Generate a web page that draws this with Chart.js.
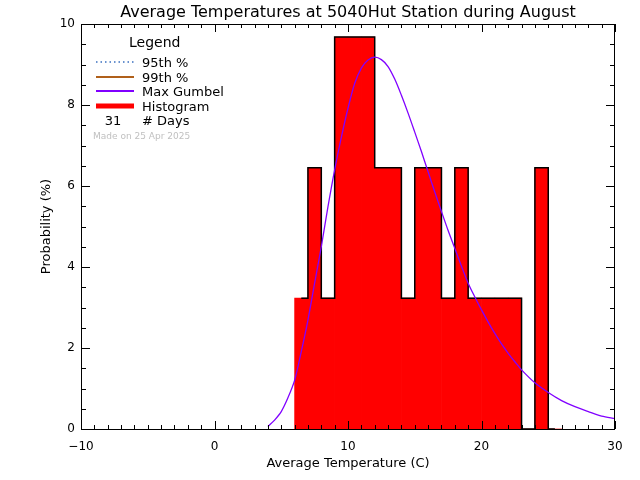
<!DOCTYPE html>
<html>
<head>
<meta charset="utf-8">
<script src="https://cdn.jsdelivr.net/npm/chart.js@4.4.1/dist/chart.umd.min.js"></script>
<style>
  html, body { margin: 0; padding: 0; background: #fff; }
</style>
</head>
<body>
<canvas id="tempChart" width="640" height="480"></canvas>
<script>
// histogram bins (1 degree wide, value at bin centre), probability in %
const binCenters = [6.5, 7.5, 8.5, 9.5, 10.5, 11.5, 12.5, 13.5, 14.5, 15.5,
                    16.5, 17.5, 18.5, 19.5, 20.5, 21.5, 22.5, 23.5, 24.5, 25.5];
const binProb = [3.23, 6.45, 3.23, 9.68, 9.68, 9.68, 6.45, 6.45, 3.23, 6.45,
                 6.45, 3.23, 6.45, 3.23, 3.23, 3.23, 3.23, 0, 6.45, 0];

// max Gumbel curve
const gumbelX = [4, 4.5, 5, 5.5, 6, 6.5, 7, 7.5, 8, 8.5, 9, 9.5, 10, 10.5, 11, 11.5,
                 12, 12.5, 13, 13.5, 14, 14.5, 15, 15.5, 16, 16.5, 17, 17.5, 18,
                 18.5, 19, 19.5, 20, 20.5, 21, 21.5, 22, 22.5, 23, 24, 25, 26, 27,
                 28, 29, 30];
const gumbelY = [0.06, 0.22, 0.43, 0.77, 1.2, 1.91, 2.69, 3.6, 4.5, 5.49, 6.4, 7.2,
                 7.92, 8.53, 8.91, 9.11, 9.18, 9.12, 8.95, 8.64, 8.24, 7.8, 7.33,
                 6.85, 6.35, 5.85, 5.37, 4.9, 4.46, 4.02, 3.6, 3.26, 2.94, 2.64,
                 2.36, 2.1, 1.87, 1.66, 1.46, 1.14, 0.9, 0.7, 0.55, 0.43, 0.32, 0.26];

const xTickValues = [-10, 0, 10, 20, 30];
const xTickLabels = ['\u221210', '0', '10', '20', '30'];
const yTickValues = [0, 2, 4, 6, 8, 10];
const yTickLabels = ['0', '2', '4', '6', '8', '10'];

const numDays = 31;
const font = '"DejaVu Sans", sans-serif';

const histPoints = binCenters.map((x, i) => ({ x: x, y: binProb[i] }));
const gumbelPoints = gumbelX.map((x, i) => ({ x: x, y: gumbelY[i] }));

// IDL-style frame, inward ticks, labels and legend
const idlFrame = {
    id: 'idlFrame',
    afterDraw(chart) {
        const { ctx, chartArea: a, scales: { x, y } } = chart;
        ctx.save();
        ctx.strokeStyle = '#000';
        ctx.lineWidth = 1;
        ctx.strokeRect(a.left + 0.5, a.top + 0.5, a.right - a.left - 1, a.bottom - a.top);

        ctx.beginPath();
        for (let v = x.min; v <= x.max; v += 1) {
            const px = Math.round(x.getPixelForValue(v)) + 0.5;
            const len = v % 10 === 0 ? 8 : 4;
            ctx.moveTo(px, a.bottom); ctx.lineTo(px, a.bottom - len);
            ctx.moveTo(px, a.top); ctx.lineTo(px, a.top + len);
        }
        for (let v = y.min; v <= y.max + 0.001; v += 0.5) {
            const py = Math.round(y.getPixelForValue(v)) + 0.5;
            const len = Math.abs(v % 2) < 0.001 ? 9 : 5;
            ctx.moveTo(a.left, py); ctx.lineTo(a.left + len, py);
            ctx.moveTo(a.right, py); ctx.lineTo(a.right - len, py);
        }
        ctx.stroke();

        ctx.fillStyle = '#000';
        ctx.font = '12px ' + font;
        ctx.textAlign = 'center';
        ctx.textBaseline = 'alphabetic';
        xTickValues.forEach((v, i) => {
            ctx.fillText(xTickLabels[i], x.getPixelForValue(v), 450);
        });
        ctx.textAlign = 'right';
        ctx.textBaseline = 'middle';
        yTickValues.forEach((v, i) => {
            ctx.fillText(yTickLabels[i], a.left - 6, y.getPixelForValue(v));
        });

        // titles
        ctx.textBaseline = 'alphabetic';
        ctx.textAlign = 'center';
        ctx.font = '13px ' + font;
        ctx.fillText('Average Temperature (C)', (a.left + a.right) / 2, 467);
        ctx.save();
        ctx.translate(50, (a.top + a.bottom) / 2);
        ctx.rotate(-Math.PI / 2);
        ctx.fillText('Probability (%)', 0, 0);
        ctx.restore();
        ctx.font = '16px ' + font;
        ctx.fillText('Average Temperatures at 5040Hut Station during August', (a.left + a.right) / 2, 17);

        // legend
        ctx.textAlign = 'left';
        ctx.font = '14px ' + font;
        ctx.fillText('Legend', 129, 47);
        ctx.font = '13px ' + font;
        const items = [
            { label: '95th %', color: '#3a6fc0', width: 1.5, dash: [1.5, 3], base: 67 },
            { label: '99th %', color: '#b0601a', width: 2, dash: [], base: 81.5 },
            { label: 'Max Gumbel', color: '#8000ff', width: 2, dash: [], base: 96 },
            { label: 'Histogram', color: '#ff0000', width: 5, dash: [], base: 110.5 }
        ];
        items.forEach(it => {
            const ly = Math.round(it.base - 5);
            ctx.beginPath();
            ctx.strokeStyle = it.color;
            ctx.lineWidth = it.width;
            ctx.setLineDash(it.dash);
            ctx.moveTo(96, ly);
            ctx.lineTo(134, ly);
            ctx.stroke();
            ctx.setLineDash([]);
            ctx.fillText(it.label, 142, it.base);
        });
        ctx.textAlign = 'center';
        ctx.fillText(String(numDays), 113, 125);
        ctx.textAlign = 'left';
        ctx.fillText('# Days', 142, 125);
        ctx.font = '9px ' + font;
        ctx.fillStyle = '#c0c0c0';
        ctx.fillText('Made on 25 Apr 2025', 93, 139);
        ctx.restore();
    }
};

new Chart(document.getElementById('tempChart'), {
    data: {
        datasets: [
            {
                type: 'line',
                label: 'Max Gumbel',
                data: gumbelPoints,
                borderColor: '#8000ff',
                borderWidth: 1.3,
                pointRadius: 0,
                tension: 0.3,
                fill: false,
                order: 1
            },
            {
                type: 'line',
                label: 'Histogram outline',
                data: histPoints,
                borderColor: '#000',
                borderWidth: 1.5,
                pointRadius: 0,
                stepped: 'middle',
                fill: false,
                order: 2
            },
            {
                type: 'bar',
                label: 'Histogram',
                data: histPoints,
                backgroundColor: '#ff0000',
                borderWidth: 0,
                barPercentage: 1.0,
                categoryPercentage: 1.0,
                order: 3
            }
        ]
    },
    options: {
        responsive: false,
        animation: false,
        devicePixelRatio: 1,
        layout: { padding: { left: 81, right: 25, top: 24, bottom: 51 } },
        plugins: {
            legend: { display: false },
            title: { display: false },
            tooltip: { enabled: false }
        },
        scales: {
            x: { type: 'linear', min: -10, max: 30, offset: false, display: false },
            y: { type: 'linear', min: 0, max: 10, display: false }
        }
    },
    plugins: [idlFrame]
});
</script>
</body>
</html>
